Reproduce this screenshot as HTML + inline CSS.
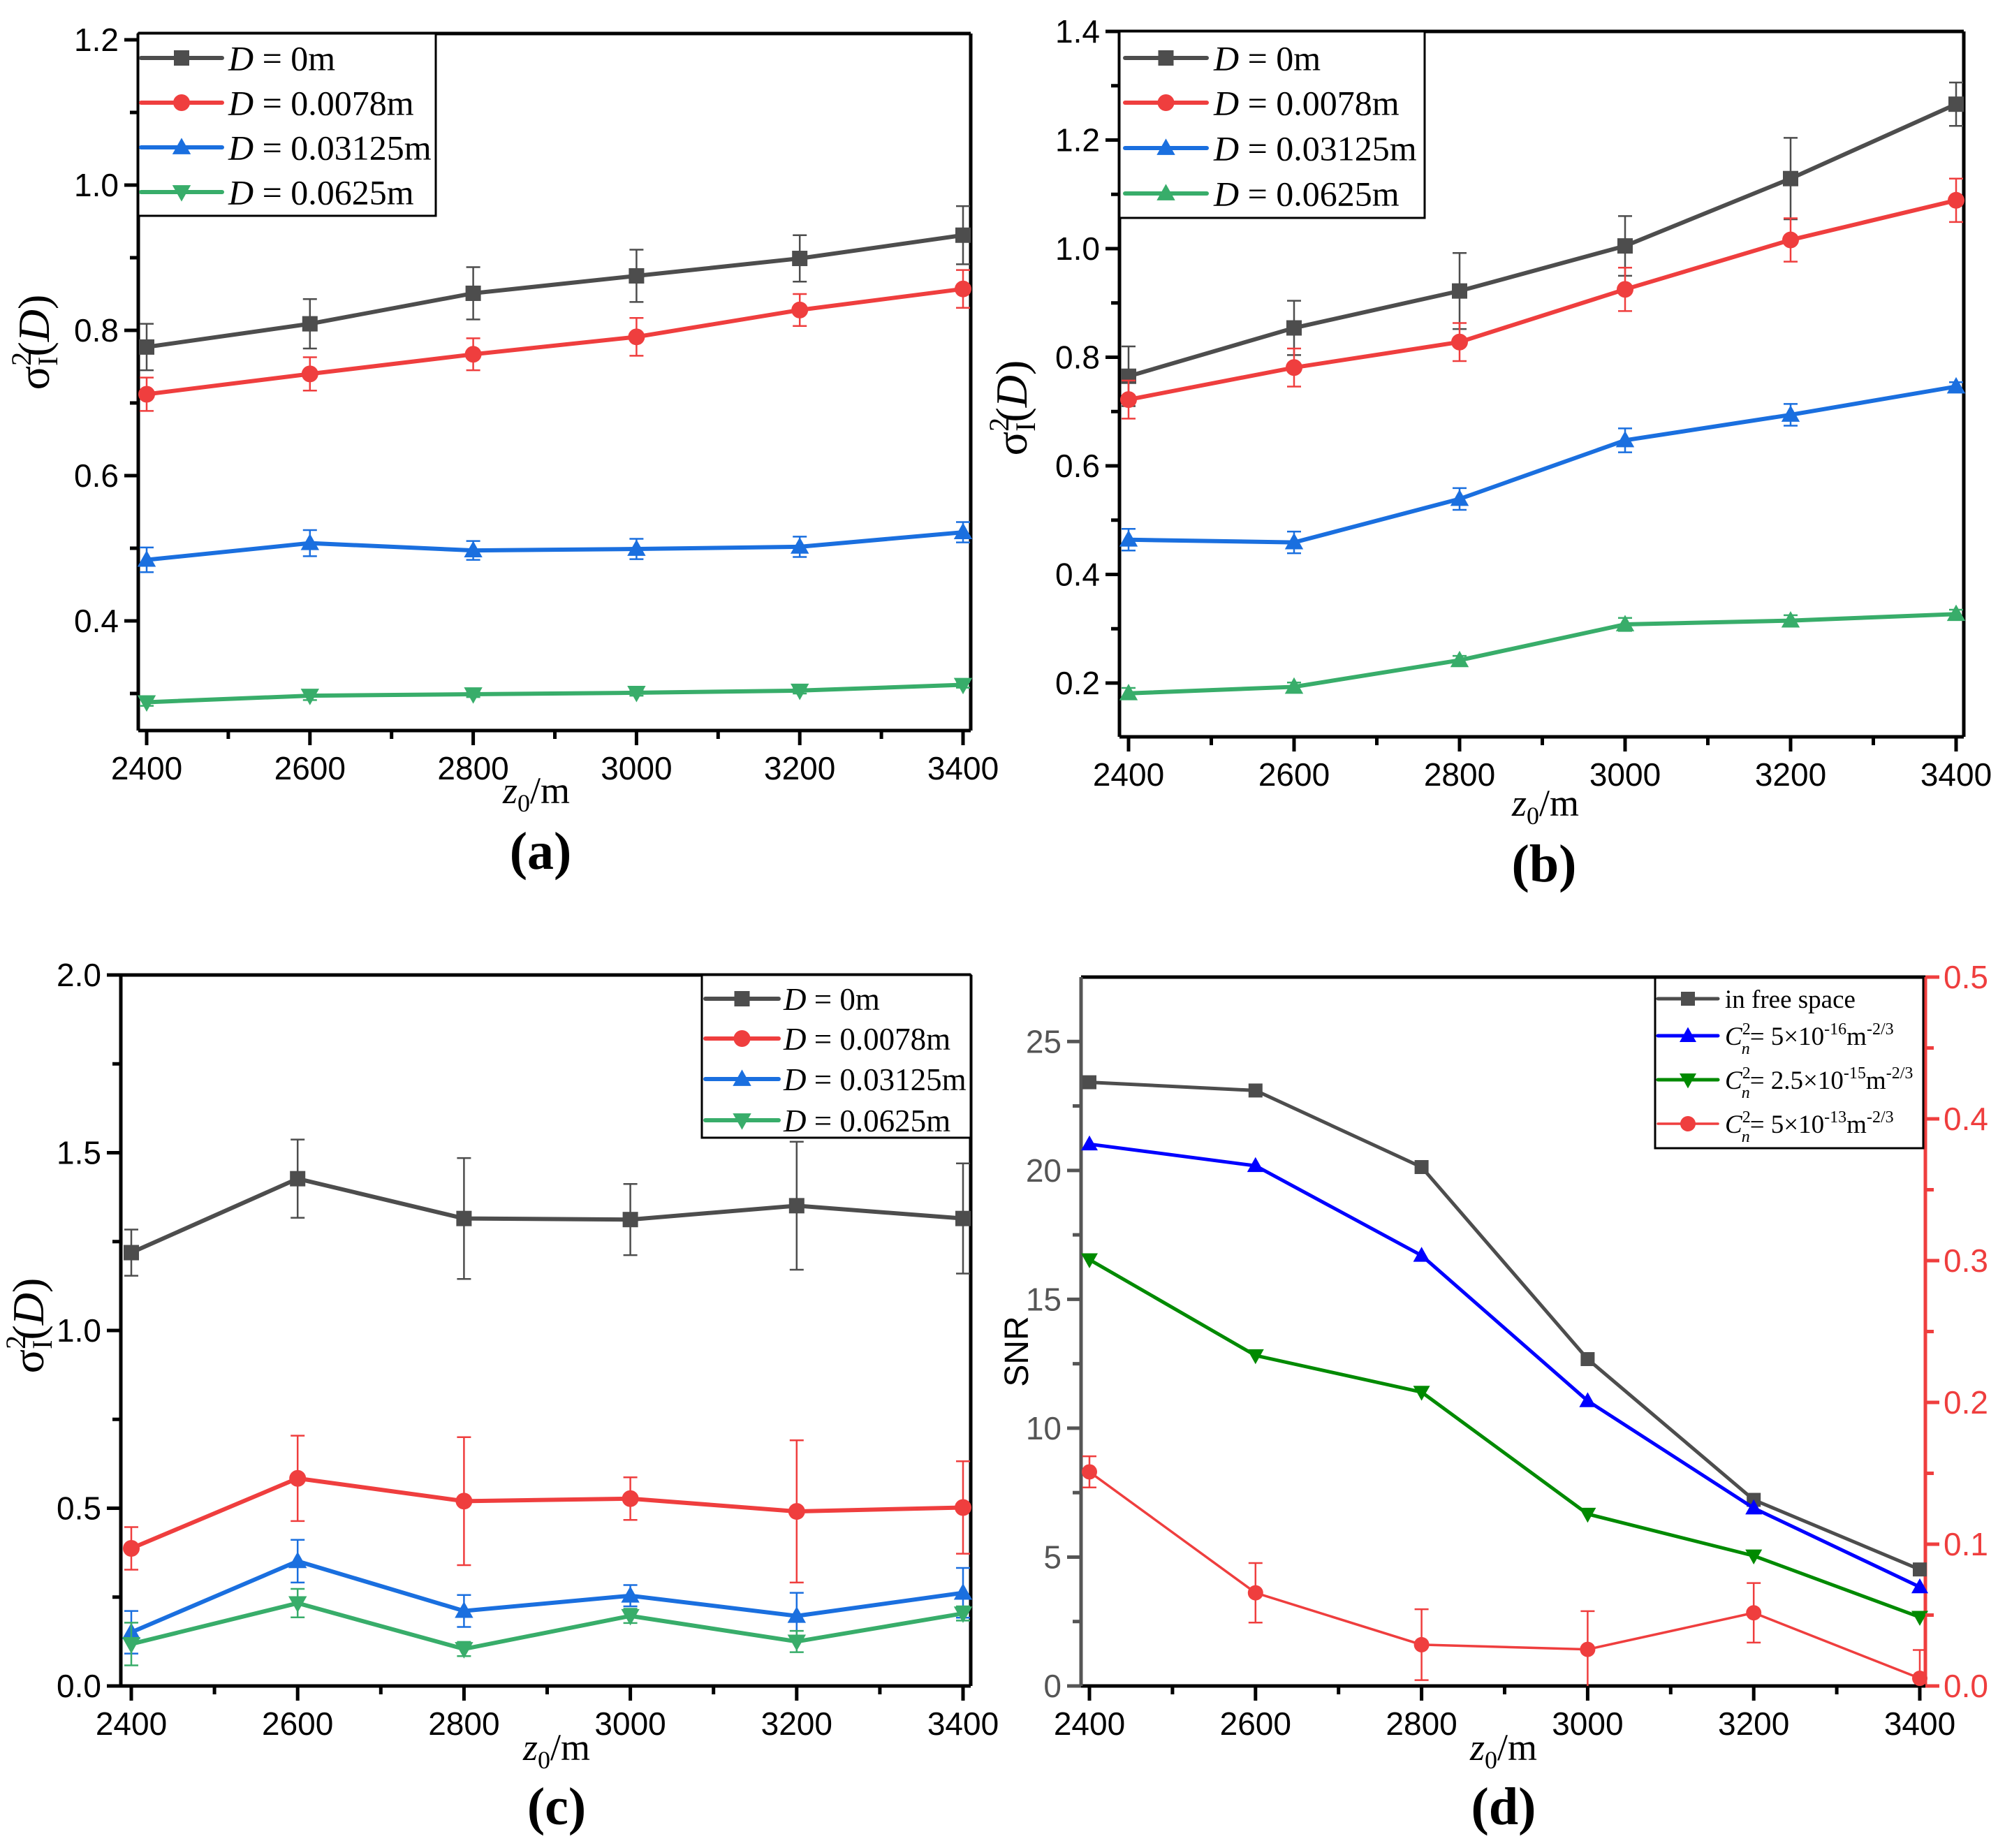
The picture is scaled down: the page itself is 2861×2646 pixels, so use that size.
<!DOCTYPE html>
<html><head><meta charset="utf-8"><style>
html,body{margin:0;padding:0;background:#fff;}
svg{display:block;}
</style></head><body>
<svg id="fig" xmlns="http://www.w3.org/2000/svg" width="2861" height="2646" viewBox="0 0 2861 2646"></svg>
<script>
// ---- data ----
const xCats = [2400, 2600, 2800, 3000, 3200, 3400];
const xTicks = [2400, 2600, 2800, 3000, 3200, 3400];
// panel a
const aBlack = [0.777, 0.809, 0.851, 0.875, 0.899, 0.931];
const aBlackErr = [0.032, 0.034, 0.036, 0.036, 0.032, 0.040];
const aRed = [0.712, 0.740, 0.767, 0.791, 0.828, 0.857];
const aRedErr = [0.023, 0.023, 0.022, 0.026, 0.022, 0.026];
const aBlue = [0.484, 0.507, 0.497, 0.499, 0.502, 0.522];
const aBlueErr = [0.017, 0.018, 0.013, 0.014, 0.014, 0.014];
const aGreen = [0.288, 0.297, 0.299, 0.301, 0.304, 0.312];
const aGreenErr = [0.005, 0.006, 0.004, 0.004, 0.004, 0.004];
const aYTicks = [0.4, 0.6, 0.8, 1.0, 1.2];
// panel b
const bBlack = [0.765, 0.854, 0.922, 1.005, 1.129, 1.266];
const bBlackErr = [0.055, 0.050, 0.070, 0.055, 0.075, 0.040];
const bRed = [0.722, 0.781, 0.828, 0.925, 1.016, 1.089];
const bRedErr = [0.035, 0.035, 0.035, 0.040, 0.040, 0.040];
const bBlue = [0.464, 0.459, 0.539, 0.647, 0.694, 0.746];
const bBlueErr = [0.020, 0.020, 0.020, 0.022, 0.020, 0.008];
const bGreen = [0.181, 0.193, 0.242, 0.308, 0.315, 0.327];
const bGreenErr = [0.010, 0.008, 0.008, 0.012, 0.010, 0.008];
const bYTicks = [0.2, 0.4, 0.6, 0.8, 1.0, 1.2, 1.4];
// panel c
const cBlack = [1.219, 1.427, 1.315, 1.312, 1.351, 1.315];
const cBlackErr = [0.065, 0.11, 0.17, 0.10, 0.18, 0.155];
const cRed = [0.387, 0.584, 0.520, 0.527, 0.491, 0.502];
const cRedErr = [0.06, 0.12, 0.18, 0.06, 0.20, 0.13];
const cBlue = [0.151, 0.351, 0.211, 0.254, 0.197, 0.262];
const cBlueErr = [0.06, 0.06, 0.045, 0.03, 0.065, 0.07];
const cGreen = [0.118, 0.233, 0.104, 0.197, 0.125, 0.204];
const cGreenErr = [0.06, 0.04, 0.02, 0.02, 0.03, 0.02];
const cYTicks = [0.0, 0.5, 1.0, 1.5, 2.0];
// panel d
const dFree = [23.42, 23.10, 20.13, 12.68, 7.22, 4.52];
const dBlue = [21.02, 20.18, 16.70, 11.06, 6.90, 3.84];
const dGreen = [16.54, 12.82, 11.40, 6.67, 5.05, 2.67];
const dRed = [0.151, 0.0657, 0.0291, 0.0258, 0.0516, 0.0054];
const dRedErr = [0.011, 0.021, 0.025, 0.027, 0.021, 0.020];
const dYTicks = [0, 5, 10, 15, 20, 25];
const dY2Ticks = [0.0, 0.1, 0.2, 0.3, 0.4, 0.5];

const SANS = '"Liberation Sans", Arial, sans-serif';
const SERIF = '"Liberation Serif", "Times New Roman", serif';
const svg = document.getElementById('fig');
const NS = 'http://www.w3.org/2000/svg';
function mk(tag, attrs, parent) {
  const e = document.createElementNS(NS, tag);
  for (const k in attrs) e.setAttribute(k, attrs[k]);
  (parent || svg).appendChild(e);
  return e;
}
function marker(g, shape, x, y, color, s) {
  let e;
  if (shape === 'sq') e = mk('rect', {x: x - s/2, y: y - s/2, width: s, height: s, fill: color}, g);
  else if (shape === 'ci') e = mk('circle', {cx: x, cy: y, r: s/2 + 1, fill: color}, g);
  else if (shape === 'up') e = mk('polygon', {points: `${x},${y - s*0.62} ${x - s*0.6},${y + s*0.45} ${x + s*0.6},${y + s*0.45}`, fill: color}, g);
  else e = mk('polygon', {points: `${x},${y + s*0.62} ${x - s*0.6},${y - s*0.45} ${x + s*0.6},${y - s*0.45}`, fill: color}, g);
  
  
  return e;
}
function makePanel(p) {
  const g = mk('g', {});
  
  
  const X = v => p.x0 + (v - 2400) / 1000 * (p.x1 - p.x0);
  const Y = v => p.yb - (v - p.ymin) / (p.ymax - p.ymin) * (p.yb - p.yt);
  p.X = X; p.Y = Y;
  const lc = p.leftColor || '#000';
  mk('line', {x1: p.L, y1: p.yt, x2: p.R, y2: p.yt, stroke: '#000', 'stroke-width': 5}, g);
  mk('line', {x1: p.R, y1: p.yt, x2: p.R, y2: p.yb, stroke: p.rightColor || '#000', 'stroke-width': 5}, g);
  mk('line', {x1: p.L, y1: p.yb, x2: p.R, y2: p.yb, stroke: '#000', 'stroke-width': 5}, g);
  mk('line', {x1: p.L, y1: p.yt, x2: p.L, y2: p.yb, stroke: lc, 'stroke-width': 5}, g);
  for (let v = 2400; v <= 3400; v += 100) {
    const major = v % 200 === 0;
    mk('line', {x1: X(v), y1: p.yb, x2: X(v), y2: p.yb + (major ? 21 : 12), stroke: '#000', 'stroke-width': 5}, g);
  }
  xTicks.forEach(v => {
    const t = mk('text', {x: X(v), y: p.yb + 70, 'font-size': 46, 'font-family': SANS, 'text-anchor': 'middle', fill: '#000'}, g);
    t.textContent = v;
    
    
  });
  const step = p.yTicks[1] - p.yTicks[0];
  for (let i = 0; i < p.yTicks.length; i++) {
    const v = p.yTicks[i];
    mk('line', {x1: p.L - 20, y1: Y(v), x2: p.L, y2: Y(v), stroke: lc, 'stroke-width': 5}, g);
    const t = mk('text', {x: p.L - 28, y: Y(v) + 16, 'font-size': 46, 'font-family': SANS, 'text-anchor': 'end', fill: lc}, g);
    t.textContent = p.yFmt(v);
    
    
  }
  for (let v = p.yTicks[0] - step/2; v < p.ymax; v += step) {
    if (v < p.ymin) continue;
    mk('line', {x1: p.L - 12, y1: Y(v), x2: p.L, y2: Y(v), stroke: lc, 'stroke-width': 5}, g);
  }
  p.series.forEach(s => {
    const sg = mk('g', {}, g);
    
    
    const YY = s.Y || Y;
    if (s.err) {
      s.vals.forEach((v, i) => {
        const x = X(xCats[i]);
        const top = Math.max(YY(v + s.err[i]), p.yt), bot = Math.min(YY(v - s.err[i]), p.yb);
        mk('line', {x1: x, y1: top, x2: x, y2: bot, stroke: s.color, 'stroke-width': 2.5}, sg);
        if (YY(v + s.err[i]) >= p.yt) mk('line', {x1: x - 10, y1: top, x2: x + 10, y2: top, stroke: s.color, 'stroke-width': 2.5}, sg);
        if (YY(v - s.err[i]) <= p.yb) mk('line', {x1: x - 10, y1: bot, x2: x + 10, y2: bot, stroke: s.color, 'stroke-width': 2.5}, sg);
      });
    }
    const pts = s.vals.map((v, i) => X(xCats[i]) + ',' + YY(v)).join(' ');
    mk('polyline', {points: pts, fill: 'none', stroke: s.color, 'stroke-width': s.lw || 6}, sg);
    s.vals.forEach((v, i) => marker(sg, s.shape, X(xCats[i]), YY(v), s.color, s.ms || 22));
  });
  const lg = mk('g', {}, g);
  
  
  const lb = p.leg;
  mk('rect', {x: lb.x, y: lb.y, width: lb.w, height: lb.h, fill: '#fff', stroke: '#000', 'stroke-width': 3}, lg);
  p.series.forEach((s, i) => {
    const ry = lb.rows[i];
    const eg = mk('g', {}, lg);
    
    
    mk('line', {x1: lb.lx0, y1: ry, x2: lb.lx1, y2: ry, stroke: s.color, 'stroke-width': s.lw || 6, 'stroke-linecap': 'round'}, eg);
    marker(eg, s.shape, (lb.lx0 + lb.lx1)/2, ry, s.color, s.ms || 22);
    const t = mk('text', {x: lb.tx, y: ry + lb.fs*0.35, 'font-size': lb.fs, 'font-family': SERIF, fill: '#000'}, eg);
    t.innerHTML = s.label;
  });
  const xl = mk('text', {x: p.xl[0], y: p.xl[1], 'font-size': 54, 'font-family': SERIF, 'text-anchor': 'middle'}, g);
  xl.innerHTML = '<tspan font-style="italic">z</tspan><tspan font-size="36" dy="12">0</tspan><tspan dy="-12">/m</tspan>';
  
  
  const yl = mk('text', {x: 0, y: 0, 'font-size': p.ylSize || 64, 'font-family': p.ylFont || SERIF, 'text-anchor': 'middle', transform: `translate(${p.yl[0]},${p.yl[1]}) rotate(-90)`}, g);
  yl.innerHTML = p.ylHtml;
  
  
  const tt = mk('text', {x: p.tt[0], y: p.tt[1], 'font-size': 76, 'font-weight': 'bold', 'font-family': SERIF, 'text-anchor': 'middle'}, g);
  tt.textContent = p.title;
  
  
  return p;
}
const sigHtml = 'σ<tspan font-size="40" dy="-26">2</tspan><tspan font-size="40" dx="-20" dy="38">I</tspan><tspan dy="-12">(</tspan><tspan font-style="italic">D</tspan>)';
const Dlab = v => '<tspan font-style="italic">D</tspan> = ' + v;
const C = { k: '#4d4d4d', r: '#ef3e3e', b: '#1a6fdf', g: '#38ad6a' };
const f1 = v => v.toFixed(1);

makePanel({name: 'panel-a', L: 198, R: 1390, yt: 48, yb: 1046, x0: 210, x1: 1379,
  ymin: 0.249, ymax: 1.2 + 9/208*0.2, yTicks: aYTicks, yFmt: f1,
  series: [
    {name: 'series-d-0m', vals: aBlack, err: aBlackErr, color: C.k, shape: 'sq', label: Dlab('0m')},
    {name: 'series-d-0.0078m', vals: aRed, err: aRedErr, color: C.r, shape: 'ci', label: Dlab('0.0078m')},
    {name: 'series-d-0.03125m', vals: aBlue, err: aBlueErr, color: C.b, shape: 'up', label: Dlab('0.03125m')},
    {name: 'series-d-0.0625m', vals: aGreen, err: aGreenErr, color: C.g, shape: 'dn', label: Dlab('0.0625m')}],
  leg: {x: 198, y: 48, w: 426, h: 261, rows: [83, 147, 211, 275], lx0: 202, lx1: 318, tx: 327, fs: 50},
  xl: [768, 1150], yl: [70, 490], ylHtml: sigHtml, tt: [774, 1244], title: '(a)'});

makePanel({name: 'panel-b', L: 1603, R: 2812, yt: 45, yb: 1055, x0: 1616, x1: 2801,
  ymin: 0.2 - 77/155.5*0.2, ymax: 1.4, yTicks: bYTicks, yFmt: f1,
  series: [
    {name: 'series-d-0m', vals: bBlack, err: bBlackErr, color: C.k, shape: 'sq', label: Dlab('0m')},
    {name: 'series-d-0.0078m', vals: bRed, err: bRedErr, color: C.r, shape: 'ci', label: Dlab('0.0078m')},
    {name: 'series-d-0.03125m', vals: bBlue, err: bBlueErr, color: C.b, shape: 'up', label: Dlab('0.03125m')},
    {name: 'series-d-0.0625m', vals: bGreen, err: bGreenErr, color: C.g, shape: 'up', label: Dlab('0.0625m')}],
  leg: {x: 1603, y: 45, w: 437, h: 267, rows: [83, 147, 212, 277], lx0: 1611, lx1: 1728, tx: 1738, fs: 50},
  xl: [2213, 1168], yl: [1470, 584], ylHtml: sigHtml, tt: [2211, 1262], title: '(b)'});

makePanel({name: 'panel-c', L: 173, R: 1390, yt: 1396, yb: 2414, x0: 188, x1: 1379,
  ymin: 0, ymax: 2.0, yTicks: cYTicks, yFmt: f1,
  series: [
    {name: 'series-d-0m', vals: cBlack, err: cBlackErr, color: C.k, shape: 'sq', label: Dlab('0m')},
    {name: 'series-d-0.0078m', vals: cRed, err: cRedErr, color: C.r, shape: 'ci', label: Dlab('0.0078m')},
    {name: 'series-d-0.03125m', vals: cBlue, err: cBlueErr, color: C.b, shape: 'up', label: Dlab('0.03125m')},
    {name: 'series-d-0.0625m', vals: cGreen, err: cGreenErr, color: C.g, shape: 'dn', label: Dlab('0.0625m')}],
  leg: {x: 1005, y: 1396, w: 385, h: 233, rows: [1430, 1487, 1545, 1604], lx0: 1010, lx1: 1115, tx: 1122, fs: 45},
  xl: [797, 2520], yl: [62, 1898], ylHtml: sigHtml, tt: [797, 2612], title: '(c)'});

const d = {name: 'panel-d', L: 1548, R: 2757, yt: 1399, yb: 2414, x0: 1560, x1: 2749,
  ymin: 0, ymax: 27.5, yTicks: dYTicks, yFmt: v => String(v), leftColor: '#555', rightColor: '#ef3e3e',
  series: [],
  leg: {x: 2370, y: 1400, w: 384, h: 244, rows: [1430, 1483, 1546, 1609], lx0: 2374, lx1: 2460, tx: 2470, fs: 37},
  xl: [2153, 2520], yl: [1472, 1935], ylHtml: 'SNR', ylFont: SANS, ylSize: 48, tt: [2153, 2612], title: '(d)'};
const Y2 = v => d.yb - v / 0.5 * (d.yb - d.yt);
const cn = (a, b) => '<tspan font-style="italic">C</tspan><tspan font-size="24" dy="-15">2</tspan><tspan font-size="24" font-style="italic" dx="-13" dy="28">n</tspan><tspan dy="-13">= ' + a + '×10</tspan><tspan font-size="24" dy="-15">' + b + '</tspan><tspan dy="15">m</tspan><tspan font-size="24" dy="-15">-2/3</tspan>';
d.series = [
  {name: 'series-free-space', vals: dFree, color: '#4d4d4d', shape: 'sq', label: 'in free space', lw: 5, ms: 20},
  {name: 'series-cn2-5e-16', vals: dBlue, color: '#0000ff', shape: 'up', label: cn('5', '-16'), lw: 5, ms: 20},
  {name: 'series-cn2-2.5e-15', vals: dGreen, color: '#008a00', shape: 'dn', label: cn('2.5', '-15'), lw: 5, ms: 20},
  {name: 'series-cn2-5e-13', vals: dRed, err: dRedErr, color: '#ef3e3e', shape: 'ci', label: cn('5', '-13'), Y: Y2, lw: 3.5, ms: 20}];
makePanel(d);
(function(){
  const g = mk('g', {});
  
  
  dY2Ticks.forEach(v => {
    mk('line', {x1: d.R, y1: Y2(v), x2: d.R + 20, y2: Y2(v), stroke: '#ef3e3e', 'stroke-width': 5}, g);
    const t = mk('text', {x: d.R + 26, y: Y2(v) + 16, 'font-size': 46, 'font-family': SANS, fill: '#ef3e3e'}, g);
    t.textContent = v.toFixed(1);
    
    
  });
  for (let v = 0.05; v < 0.5; v += 0.1) mk('line', {x1: d.R, y1: Y2(v), x2: d.R + 12, y2: Y2(v), stroke: '#ef3e3e', 'stroke-width': 5}, g);
})();
</script>
</body></html>
